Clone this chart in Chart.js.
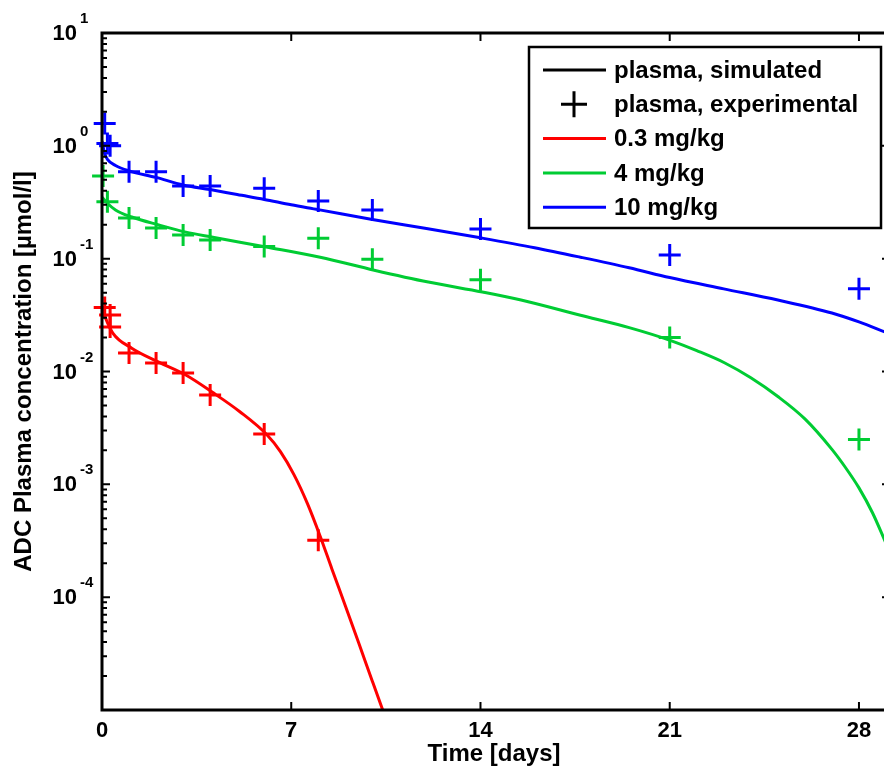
<!DOCTYPE html>
<html>
<head>
<meta charset="utf-8">
<title>ADC plasma concentration</title>
<script src="https://cdn.jsdelivr.net/npm/chart.js@4.4.1/dist/chart.umd.min.js"></script>
<style>
  html, body { margin: 0; padding: 0; background: #fff; overflow: hidden; }
  #wrap { position: relative; width: 889px; height: 775px; }
</style>
</head>
<body>
<div id="wrap"><canvas id="pk"></canvas></div>
<script>
// simulated plasma curves (time in days, concentration in umol/l)
const sim03Days = [0, 0.1, 0.4, 1.1, 2.1, 3.1, 4.1, 5.1, 6.1, 6.6, 7.1, 7.6, 8.07, 8.5, 9, 9.5, 10, 10.37, 10.7];
const sim03Conc = [0.036, 0.031, 0.0219, 0.0161, 0.0121, 0.0093, 0.0065, 0.0044, 0.00275, 0.00195, 0.00122, 0.000675, 0.000347, 0.000179, 0.000084, 0.000039, 0.000018, 0.0000102, 0.0000062];

const sim4Days = [0, 0.2, 0.5, 1.1, 2.1, 3.1, 4.1, 6.07, 8.07, 10.07, 12.07, 14.07, 15.5, 17.7, 19.5, 21.04, 22, 23.04, 24, 25, 26, 27, 27.5, 28, 28.5, 29];
const sim4Conc = [0.35, 0.31, 0.27, 0.234, 0.199, 0.172, 0.155, 0.127, 0.103, 0.079, 0.062, 0.0506, 0.043, 0.0315, 0.0245, 0.0188, 0.0153, 0.0119, 0.0088, 0.006, 0.0038, 0.00204, 0.00141, 0.00093, 0.00056, 0.0003];

const sim10Days = [0, 0.1, 0.2, 0.5, 1, 2, 3, 4, 5, 6, 7, 8, 10, 12, 14, 16, 17.7, 19.5, 21, 23, 25, 27, 28, 29];
const sim10Conc = [1.1, 0.85, 0.76, 0.67, 0.6, 0.525, 0.45, 0.41, 0.37, 0.335, 0.30, 0.272, 0.222, 0.185, 0.153, 0.125, 0.103, 0.083, 0.068, 0.054, 0.043, 0.033, 0.0275, 0.0222];

// experimental plasma data
const exp03Days = [0.1, 0.3, 0.3, 1, 2, 3, 4, 6, 8];
const exp03Conc = [0.037, 0.0316, 0.0248, 0.0146, 0.0119, 0.0097, 0.0062, 0.0028, 0.00032];

const exp4Days = [0.04, 0.2, 1, 2, 3, 4, 6, 8, 10, 14, 21, 28];
const exp4Conc = [0.54, 0.32, 0.229, 0.187, 0.162, 0.146, 0.128, 0.152, 0.099, 0.065, 0.020, 0.0025];

const exp10Days = [0.1, 0.2, 0.3, 1, 2, 3, 4, 6, 8, 10, 14, 21, 28];
const exp10Conc = [1.58, 1.05, 1.0, 0.59, 0.59, 0.44, 0.44, 0.42, 0.324, 0.27, 0.183, 0.108, 0.054];

const xTicks = [0, 7, 14, 21, 28];
const yTicks = [1e-4, 1e-3, 1e-2, 1e-1, 1, 10];
const yTickExps = ['-4', '-3', '-2', '-1', '0', '1'];

const legendLabels = ['plasma, simulated', 'plasma, experimental', '0.3 mg/kg', '4 mg/kg', '10 mg/kg'];
const legendKinds = ['line', 'cross', 'line', 'line', 'line'];

const RED = '#ff0000';
const GREEN = '#00cc33';
const BLUE = '#0000ff';
const legendColors = ['#000000', '#000000', RED, GREEN, BLUE];
const FONT = '"Liberation Sans", Arial, sans-serif';

const pts = (xs, ys) => xs.map((x, i) => ({ x: x, y: ys[i] }));

function simSet(xs, ys, color) {
  return {
    type: 'line',
    data: pts(xs, ys),
    borderColor: color,
    borderWidth: 3,
    pointRadius: 0,
    cubicInterpolationMode: 'monotone',
    fill: false
  };
}

function expSet(xs, ys, color) {
  return {
    type: 'scatter',
    data: pts(xs, ys),
    showLine: false,
    pointStyle: 'cross',
    pointRadius: 11,
    pointBorderWidth: 3,
    borderColor: color,
    backgroundColor: color,
    clip: false
  };
}

// box around the plot with inward tick marks, plus 10^n labels with raised exponents
const framePlugin = {
  id: 'frame',
  afterDatasetsDraw(chart) {
    const { ctx, chartArea: a, scales: { x, y } } = chart;
    ctx.save();
    ctx.strokeStyle = '#000';
    ctx.lineWidth = 2;
    ctx.beginPath();
    xTicks.forEach(v => {
      const px = x.getPixelForValue(v);
      ctx.moveTo(px, a.bottom); ctx.lineTo(px, a.bottom - 8);
      ctx.moveTo(px, a.top); ctx.lineTo(px, a.top + 8);
    });
    for (let e = -5; e <= 0; e++) {
      for (let m = 1; m <= 9; m++) {
        const py = y.getPixelForValue(m * Math.pow(10, e));
        ctx.moveTo(a.left, py); ctx.lineTo(a.left + (m === 1 ? 8 : 5), py);
        if (m === 1) { ctx.moveTo(a.right, py); ctx.lineTo(a.right - 4, py); }
      }
    }
    ctx.stroke();
    ctx.lineWidth = 3;
    ctx.strokeRect(a.left, a.top, a.right - a.left, a.bottom - a.top);

    ctx.fillStyle = '#000';
    ctx.textBaseline = 'middle';
    yTicks.forEach((v, i) => {
      const py = y.getPixelForValue(v);
      ctx.font = 'bold 22px ' + FONT;
      ctx.textAlign = 'right';
      ctx.fillText('10', a.left - 25, py + 1);
      ctx.font = 'bold 15px ' + FONT;
      ctx.textAlign = 'left';
      ctx.fillText(yTickExps[i], a.left - 22, py - 14);
    });
    ctx.restore();
  }
};

// legend box inside the plot, top right
const legendPlugin = {
  id: 'boxLegend',
  afterDraw(chart) {
    const { ctx, chartArea: a } = chart;
    const w = 352, h = 181;
    const left = a.right - 5 - w, top = a.top + 14;
    ctx.save();
    ctx.fillStyle = '#fff';
    ctx.fillRect(left, top, w, h);
    ctx.strokeStyle = '#000';
    ctx.lineWidth = 2.5;
    ctx.strokeRect(left, top, w, h);
    ctx.font = 'bold 24px ' + FONT;
    ctx.textBaseline = 'middle';
    ctx.textAlign = 'left';
    legendLabels.forEach((label, i) => {
      const cy = top + 23 + i * 34.3;
      ctx.strokeStyle = legendColors[i];
      ctx.lineWidth = 3;
      ctx.beginPath();
      if (legendKinds[i] === 'line') {
        ctx.moveTo(left + 14, cy); ctx.lineTo(left + 77, cy);
      } else {
        const cx = left + 45;
        ctx.moveTo(cx - 13, cy); ctx.lineTo(cx + 13, cy);
        ctx.moveTo(cx, cy - 13); ctx.lineTo(cx, cy + 13);
      }
      ctx.stroke();
      ctx.fillStyle = '#000';
      ctx.fillText(label, left + 85, cy + 1);
    });
    ctx.restore();
  }
};

new Chart(document.getElementById('pk'), {
  data: {
    datasets: [
      expSet(exp03Days, exp03Conc, RED),
      expSet(exp4Days, exp4Conc, GREEN),
      expSet(exp10Days, exp10Conc, BLUE),
      simSet(sim03Days, sim03Conc, RED),
      simSet(sim4Days, sim4Conc, GREEN),
      simSet(sim10Days, sim10Conc, BLUE)
    ]
  },
  options: {
    responsive: true,
    maintainAspectRatio: false,
    animation: false,
    layout: { autoPadding: false, padding: { top: 33, right: 3, left: 0, bottom: 0 } },
    plugins: {
      legend: { display: false },
      tooltip: { enabled: false }
    },
    scales: {
      x: {
        type: 'linear',
        min: 0,
        max: 29,
        afterBuildTicks: s => { s.ticks = xTicks.map(v => ({ value: v })); },
        afterFit: s => { s.height = 65; s.paddingLeft = 0; s.paddingRight = 0; },
        grid: { display: false, drawTicks: false },
        border: { display: false },
        ticks: {
          autoSkip: false,
          maxRotation: 0,
          padding: 8,
          color: '#000',
          font: { family: FONT, size: 22, weight: 'bold' }
        },
        title: {
          display: true,
          text: 'Time [days]',
          color: '#000',
          font: { family: FONT, size: 24, weight: 'bold' },
          padding: { top: 0, bottom: 6 }
        }
      },
      y: {
        type: 'logarithmic',
        min: 1e-5,
        max: 10,
        afterBuildTicks: s => { s.ticks = yTicks.map(v => ({ value: v })); },
        afterFit: s => { s.width = 102; s.paddingTop = 0; s.paddingBottom = 0; },
        grid: { display: false, drawTicks: false },
        border: { display: false },
        ticks: { display: false },
        title: {
          display: true,
          text: 'ADC Plasma concentration [\u00B5mol/l]',
          color: '#000',
          font: { family: FONT, size: 24, weight: 'bold' },
          padding: { top: 10, bottom: 0 }
        }
      }
    }
  },
  plugins: [framePlugin, legendPlugin]
});
</script>
</body>
</html>
